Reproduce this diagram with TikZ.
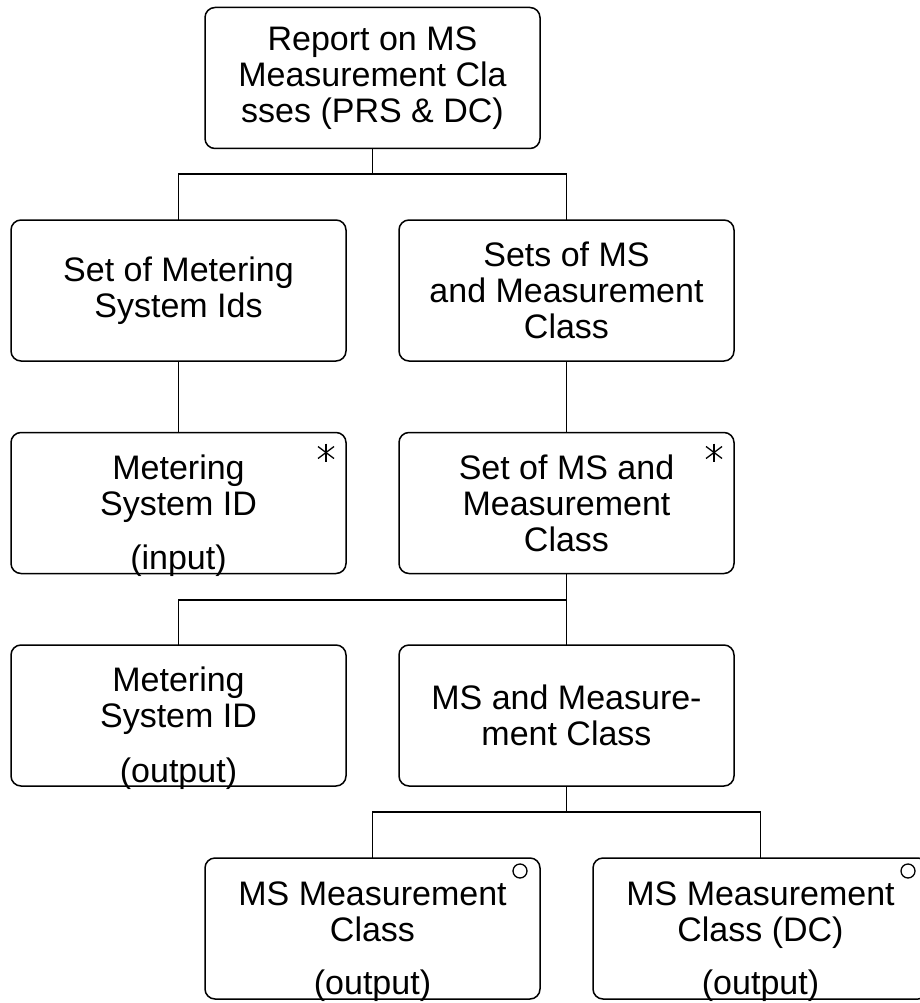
\documentclass[tikz,border=0pt]{standalone}
\usepackage{fontspec}
\setmainfont{Liberation Sans}
\tikzset{
  box/.style={draw, line width=1.5pt, rounded corners=10pt, minimum width=335pt, minimum height=141pt, inner sep=0pt, outer sep=0pt, align=center, font=\fontsize{34}{36}\selectfont},
  txt/.style={inner sep=0pt, outer sep=0pt, align=center, anchor=base, font=\fontsize{34}{36}\selectfont},
  conn/.style={line width=1.5pt},
  symline/.style={line width=1.3pt}
}
\begin{document}
\begin{tikzpicture}[x=1pt,y=1pt]
\useasboundingbox (0,0) rectangle (920,-1003);
\fill[white] (0,0) rectangle (920,-1003);
% boxes
\node[box] (A) at (372.5,-78) {Report on MS\\Measurement Cla\\sses (PRS \& DC)};
\node[box] (B) at (178.5,-290.5) {Set of Metering\\System Ids};
\node[box] (C) at (566.5,-290.5) {Sets of MS\\and Measurement\\Class};
\node[box] (D) at (178.5,-503) {};
\node[box] (E) at (566.5,-503) {Set of MS and\\Measurement\\Class};
\node[box] (F) at (178.5,-715.5) {};
\node[box] (G) at (566.5,-715.5) {MS and Measure-\\ment Class};
\node[box] (H) at (372.5,-928.5) {};
\node[box] (I) at (760.5,-928.5) {};
% texts of labelled boxes (base = last line)
\node[txt] (Dt) at ([yshift=-83pt]D.north) {Metering\\System ID};
\node[txt] (Dl) at ([yshift=4pt]D.south) {(input)};
\node[txt] (Ft) at ([yshift=-82pt]F.north) {Metering\\System ID};
\node[txt] (Fl) at ([yshift=4pt]F.south) {(output)};
\node[txt] (Ht) at ([yshift=-83pt]H.north) {MS Measurement\\Class};
\node[txt] (Hl) at ([yshift=5pt]H.south) {(output)};
\node[txt] (It) at ([yshift=-83pt]I.north) {MS Measurement\\Class (DC)};
\node[txt] (Il) at ([yshift=5pt]I.south) {(output)};
% asterisks
\coordinate (Ds) at ([xshift=-20pt,yshift=-20pt]D.north east);
\coordinate (Es) at ([xshift=-20pt,yshift=-20pt]E.north east);
\foreach \c in {Ds,Es}{
  \draw[symline] ([shift={(0,9)}]\c) -- ([shift={(0,-9)}]\c);
  \draw[symline] ([shift={(-8,6)}]\c) -- ([shift={(8,-6)}]\c);
  \draw[symline] ([shift={(-8,-6)}]\c) -- ([shift={(8,6)}]\c);
}
% circles
\node[draw, symline, circle, minimum size=14pt, inner sep=0pt] (Hc) at ([xshift=-20pt,yshift=-13pt]H.north east) {};
\node[draw, symline, circle, minimum size=14pt, inner sep=0pt] (Ic) at ([xshift=-20pt,yshift=-13pt]I.north east) {};
% connectors
\coordinate (j1) at (372.5,-174);
\coordinate (j2) at (566.5,-600);
\coordinate (j3) at (566.5,-812);
\draw[conn] (A.south) -- (j1);
\draw[conn] (B.north) |- (j1) -| (C.north);
\draw[conn] (B.south) -- (D.north);
\draw[conn] (C.south) -- (E.north);
\draw[conn] (E.south) -- (G.north);
\draw[conn] (F.north) |- (j2);
\draw[conn] (G.south) -- (j3);
\draw[conn] (H.north) |- (j3) -| (I.north);
\end{tikzpicture}
\end{document}
